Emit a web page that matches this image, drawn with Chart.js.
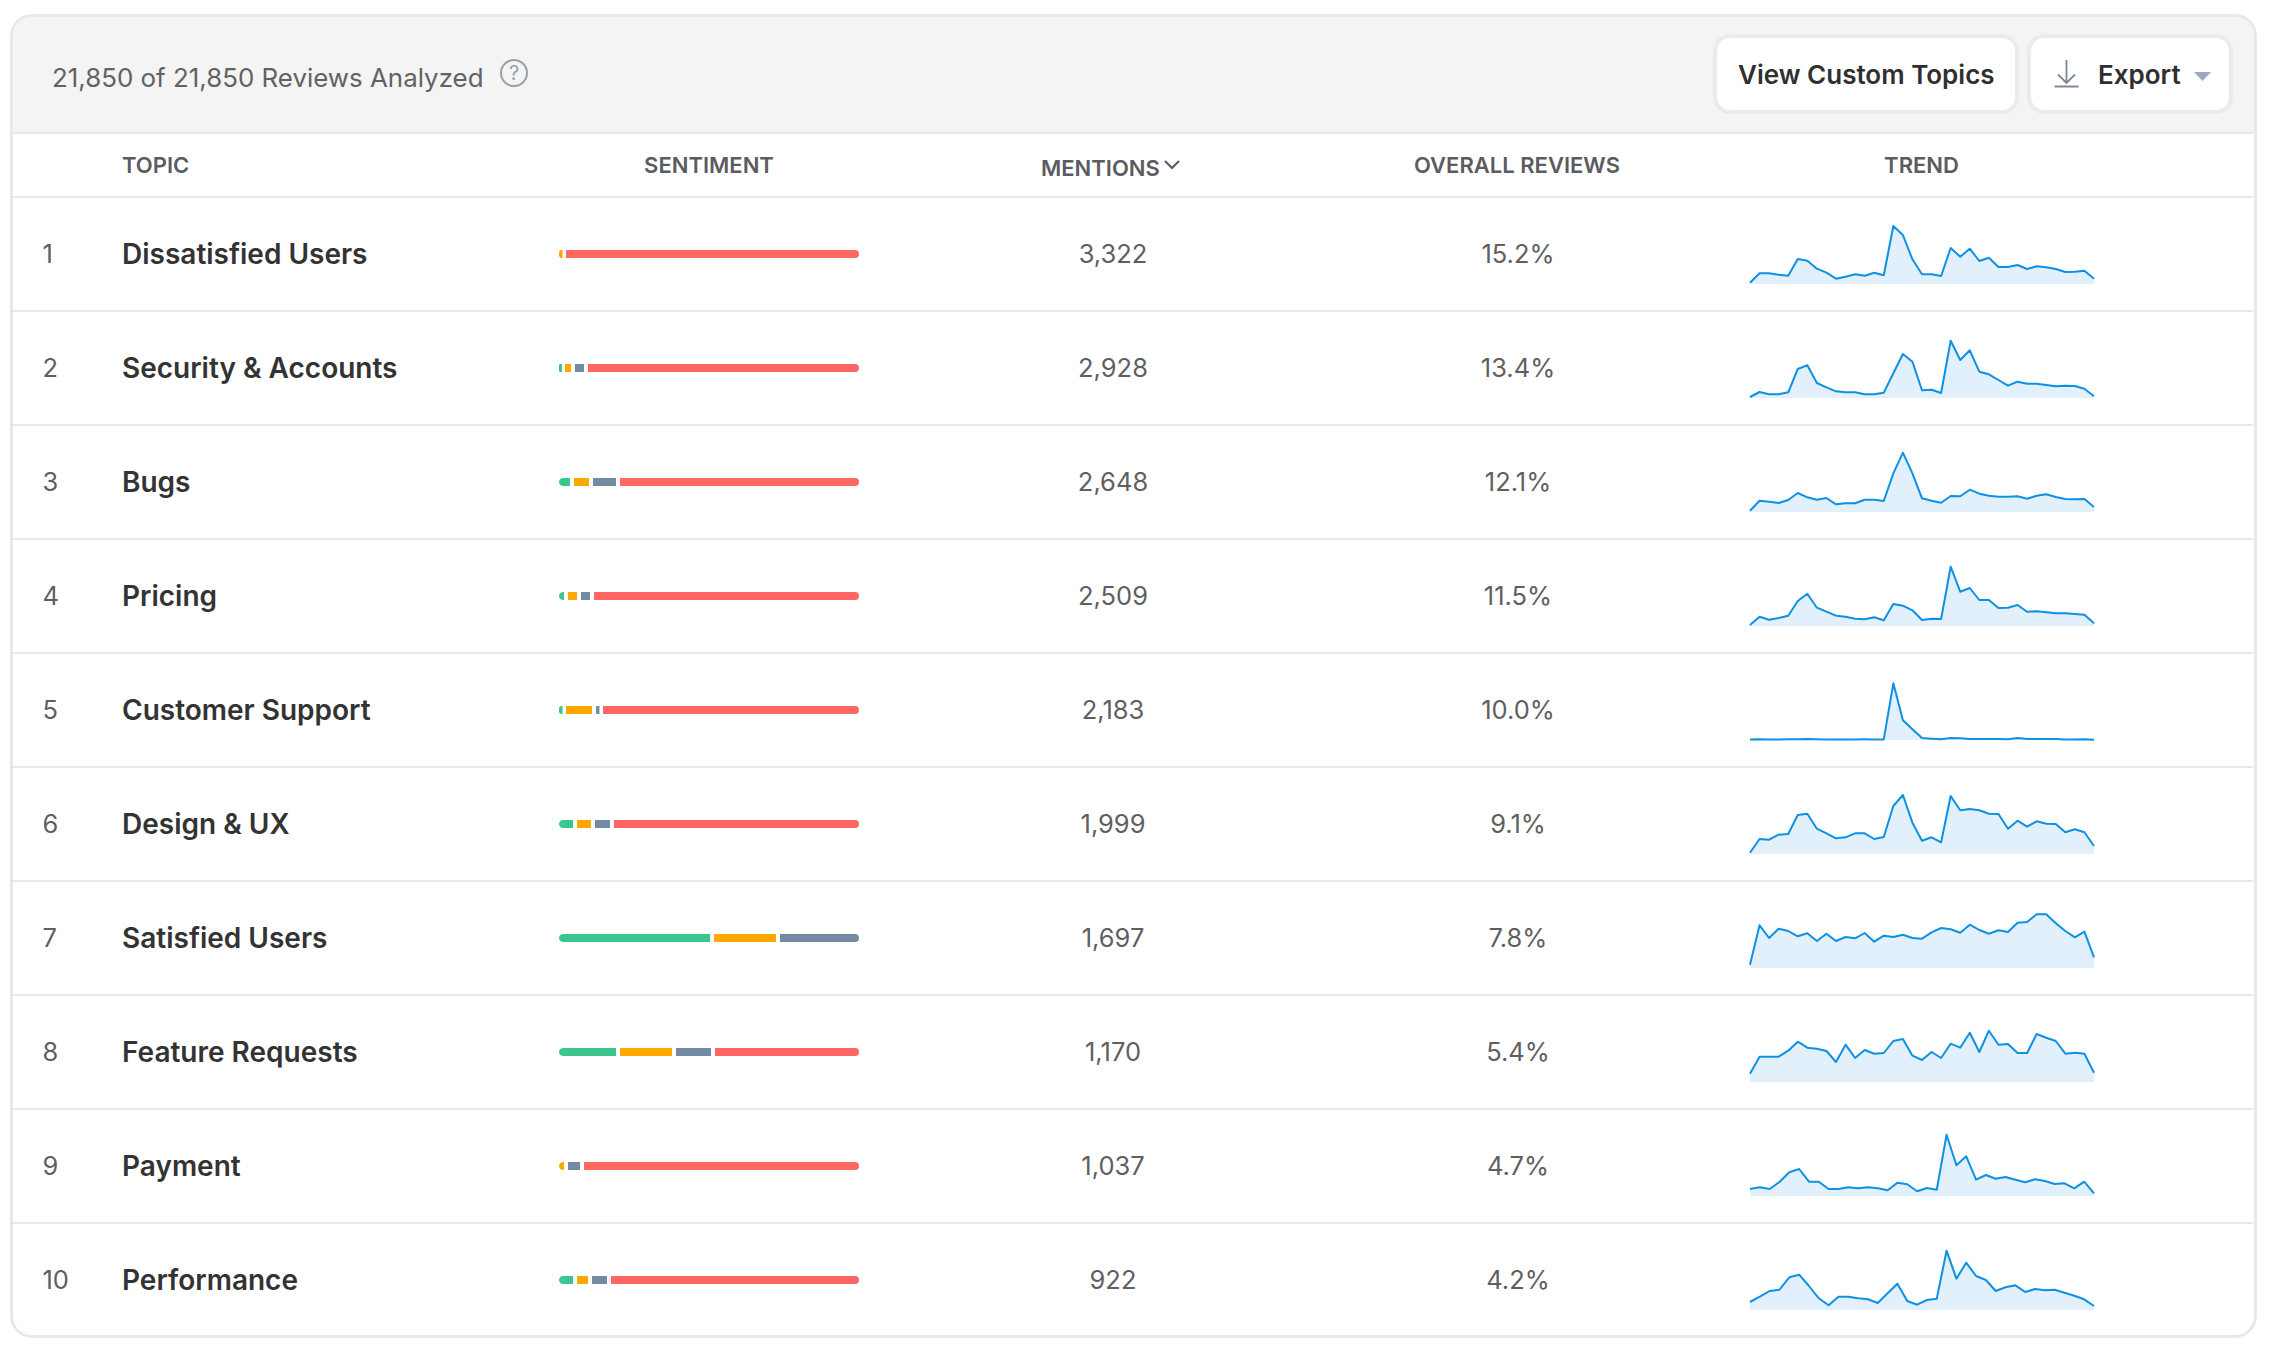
<!DOCTYPE html>
<html><head><meta charset="utf-8">
<script src="https://cdn.jsdelivr.net/npm/chart.js@4"></script>
<style>
html,body{margin:0;padding:0;background:#fff;width:2270px;height:1352px;overflow:hidden;font-family:Inter,sans-serif;}
.a{position:absolute;white-space:nowrap;}
#card{position:absolute;left:10px;top:14px;width:2241px;height:1318px;border:3px solid #e8e8e8;border-radius:22px;overflow:hidden;box-sizing:content-box;}
#head{position:absolute;left:0;top:0;right:0;height:116px;background:#f4f4f4;}
.line{position:absolute;left:12px;width:2241px;height:2px;background:#e8e8e8;}
.th{font-weight:600;font-size:22px;color:#5b5b61;line-height:30px;}
.c{transform:translateX(-50%);}
.num{font-size:25.5px;color:#5f5f5f;line-height:40px;}
.name{font-size:28px;font-weight:600;color:#333;line-height:40px;}
.btn{position:absolute;top:34px;height:80px;box-sizing:border-box;background:#fff;border:4px solid #ebebeb;border-radius:17px;}
.btxt{font-size:26px;font-weight:600;color:#2f2f2f;line-height:40px;}
</style></head><body>
<div id="card"><div id="head"></div></div>
<div class="line" style="top:132px"></div>
<div class="line" style="top:196px"></div>
<div class="a" style="left:52px;top:58px;font-size:25.9px;color:#626262;line-height:40px">21,850 of 21,850 Reviews Analyzed</div>
<div class="a" style="left:500px;top:59px;width:24px;height:24px;border:2.5px solid #9aa0ab;border-radius:50%;text-align:center;font-size:20px;line-height:24px;color:#9aa0ab">?</div>
<div class="btn" style="left:1713px;width:306px"></div>
<div class="btn" style="left:2027px;width:206px"></div>
<div class="a btxt" style="left:1738px;top:55px">View Custom Topics</div>
<div class="a btxt" style="left:2098px;top:55px">Export</div>
<svg class="a" style="left:2053px;top:57px" width="28" height="32" viewBox="0 0 28 32"><path d="M13.5 3V26M5 17.5L13.5 26L22 17.5" fill="none" stroke="#7f8794" stroke-width="1.8"/><path d="M1.500 29.500H25.500" stroke="#7f8794" stroke-width="2"/></svg>
<svg class="a" style="left:2194px;top:72px" width="17" height="9" viewBox="0 0 17 9"><path d="M0 0H17L8.500 9Z" fill="#9aa8c4"/></svg>
<div class="a th" style="left:122px;top:150px">TOPIC</div>
<div class="a th c" style="left:709px;top:150px">SENTIMENT</div>
<div class="a th" style="left:1041px;top:153px">MENTIONS</div>
<svg class="a" style="left:1163px;top:159px" width="18" height="12" viewBox="0 0 18 12"><path d="M2 2L9 9L16 2" fill="none" stroke="#5b5b61" stroke-width="2.200"/></svg>
<div class="a th c" style="left:1517px;top:150px">OVERALL REVIEWS</div>
<div class="a th c" style="left:1921.500px;top:150px">TREND</div>
<div id="rows"></div>
<canvas id="sent" class="a" style="left:559px;top:197px"></canvas>
<script>
const topics=["Dissatisfied Users","Security & Accounts","Bugs","Pricing","Customer Support","Design & UX","Satisfied Users","Feature Requests","Payment","Performance"];
const mentions=["3,322","2,928","2,648","2,509","2,183","1,999","1,697","1,170","1,037","922"];
const overall=["15.2%","13.4%","12.1%","11.5%","10.0%","9.1%","7.8%","5.4%","4.7%","4.2%"];
const positive=[0,2,5,3,2.33,6,51.67,20.33,0,6];
const mixed=[2.33,3.33,6.33,4.33,10,6,22,18.67,3,5];
const neutral=[0,4.33,9,4.33,2.33,6.33,26.33,13,5.33,6.33];
const negative=[97.67,90.33,79.67,88.33,85.33,81.67,0,48,91.67,82.67];
const trend1=[1.3,10.7,10.7,9.3,8.3,25,23.3,15.3,11.3,5.3,7.3,9.7,8.3,11.3,8.7,58,49,24.7,9.7,9.7,8,36,27.3,35.3,23,26.3,17,17,19,15,17.7,16.7,15,12,12.3,13.3,5.3];
const trend2=[1,6,3.7,3.7,5.7,29,32.7,15,10.7,6.7,5.7,5.7,3.7,3.7,5.3,24.7,44,36.3,7.7,8.3,5,57.3,38,47.7,26.3,23.7,18,12.3,16.3,14.3,14.3,13,11.7,12.3,12,9.3,1.7];
const trend3=[1.3,11.3,10.3,9,12,19,14.7,12.3,14,7.7,8.7,8.7,12.3,12.3,11,38.7,59.3,38.7,13.7,11.3,9.3,16,15.7,22.3,18.3,16.3,15.3,15.3,15.7,13.3,16.3,17.7,15,13,12.7,13,5];
const trend4=[1,9.3,6.3,8,10.3,25,32.3,18.3,14.3,10.3,9.3,7.3,6.7,8.7,5.7,22,20.3,15.7,6,7.3,7,59.3,34.3,38,26,26,18,18.3,21,14.3,14.7,13.7,12.7,12.7,12,11.3,2.7];
const trend5=[0.5,0.7,0.5,0.6,0.8,0.8,1,0.7,0.5,0.4,0.5,0.6,0.7,0.6,0.6,56.7,19.7,10.7,2,1.3,0.7,2,1.7,1,0.9,1,0.9,0.7,2,1,0.9,0.9,0.9,0.6,0.6,0.7,0.3];
const trend6=[1.3,15,14.3,19.3,20,39,40.3,25.3,20.7,15.7,16.7,20.7,20.7,15,17,48,59,31.3,13.3,16.7,11.7,58,43.7,45,43.7,40.3,40,25.3,33.3,27.3,32.7,30.3,30,21.7,24.7,21.7,8];
const trend7=[3.3,42.7,30,39.3,37,31.7,34.7,27,34.3,27,31,29.7,35,26.3,32.3,31,33.3,30,29.3,35.7,40,38.7,35.3,43.3,38,34.3,37.7,36,45.3,46,53.7,53.7,44.7,37,30.7,36.3,10.7];
const trend8=[8.3,25.3,25.3,25.3,31.3,40.3,34.3,33.3,31,20,37.3,24,32,28.3,29,41,43,26.3,22,30,24,38.3,34.3,49.3,30,51.3,37.3,38,29,29,48,44.3,41,28.3,29.3,28.3,9.3];
const trend9=[7,8.7,7,14,23.7,27,14.3,14.3,7,7,8.7,7.7,8.7,7.7,5.7,13.3,11.7,4.7,8,6.3,61.3,30.7,39.7,16.3,21,17.3,19,16.3,13.7,16.7,15,12,12.7,7.7,14.3,2.7];
const trend10=[8,13.3,19,20.3,32.7,35.3,24,11.7,4.7,13.3,13.3,11.7,10.7,7,16.7,26.3,9,5.3,10,11.3,59.3,31.3,47.3,34,30,19,22.7,24.7,18,21,19.7,20.3,17.3,14.3,10.7,4];
const trends=[trend1,trend2,trend3,trend4,trend5,trend6,trend7,trend8,trend9,trend10];

const rows=document.getElementById('rows');
const rowH=114, top0=197;
topics.forEach((t,i)=>{
  const cy=top0+rowH*i+rowH/2;
  let h='';
  if(i<9) h+=`<div class="line" style="top:${top0+rowH*(i+1)-1}px"></div>`;
  h+=`<div class="a num" style="left:42.500px;top:${cy-20}px">${i+1}</div>`;
  h+=`<div class="a name" style="left:122px;top:${cy-20}px">${t.replace('&','&amp;')}</div>`;
  h+=`<div class="a num c" style="left:1113px;top:${cy-20}px">${mentions[i]}</div>`;
  h+=`<div class="a num c" style="left:1518px;top:${cy-20}px">${overall[i]}</div>`;
  h+=`<canvas id="t${i}" class="a" style="left:1748px;top:${cy-36}px"></canvas>`;
  rows.insertAdjacentHTML('beforeend',h);
});
Chart.defaults.animation=false;
Chart.defaults.responsive=false;
Chart.defaults.devicePixelRatio=1;
const series=[[positive,'#3bc58f'],[mixed,'#ffa900'],[neutral,'#738ca3'],[negative,'#ff6763']];
const sc=document.getElementById('sent');sc.width=300;sc.height=1140;
function edges(r){const v=series.map(s=>s[0][r]);return [v.findIndex(x=>x>0),3-[...v].reverse().findIndex(x=>x>0)];}
new Chart(sc,{type:'bar',data:{labels:topics,datasets:series.map(([d,c],k)=>({label:['Positive','Mixed','Neutral','Negative'][k],data:d,backgroundColor:c,borderColor:'#ffffff',barThickness:8,inflateAmount:0,borderSkipped:false,
  borderWidth:ctx=>{const e=edges(ctx.dataIndex);return {top:0,bottom:0,left:0,right:(k===e[1]||d[ctx.dataIndex]===0)?0:4};},
  borderRadius:ctx=>{const e=edges(ctx.dataIndex);
    const vis=d[ctx.dataIndex]*3-4;
    const l=k===e[0]?Math.min(4,Math.max(0,vis-1)):0, r=k===e[1]?4:0;
    return {topLeft:l,bottomLeft:l,topRight:r,bottomRight:r};}
}))},options:{indexAxis:'y',layout:{padding:0},plugins:{legend:{display:false},tooltip:{enabled:false}},
 scales:{x:{stacked:true,min:0,max:100,display:false},y:{stacked:true,display:false}}}});
trends.forEach((d,i)=>{
  const c=document.getElementById('t'+i);c.width=348;c.height=70;
  new Chart(c,{type:'line',data:{labels:d.map((_,j)=>j),datasets:[{data:d,borderColor:'#0e90e4',borderWidth:2,borderJoinStyle:'round',backgroundColor:'#e1f0fb',fill:'origin',pointRadius:0,tension:0}]},
  options:{layout:{padding:{left:2,right:2,top:0,bottom:0}},plugins:{legend:{display:false},tooltip:{enabled:false}},
   scales:{x:{display:false,type:'category'},y:{display:false,min:-4,max:66}}}});
});
</script></body></html>
